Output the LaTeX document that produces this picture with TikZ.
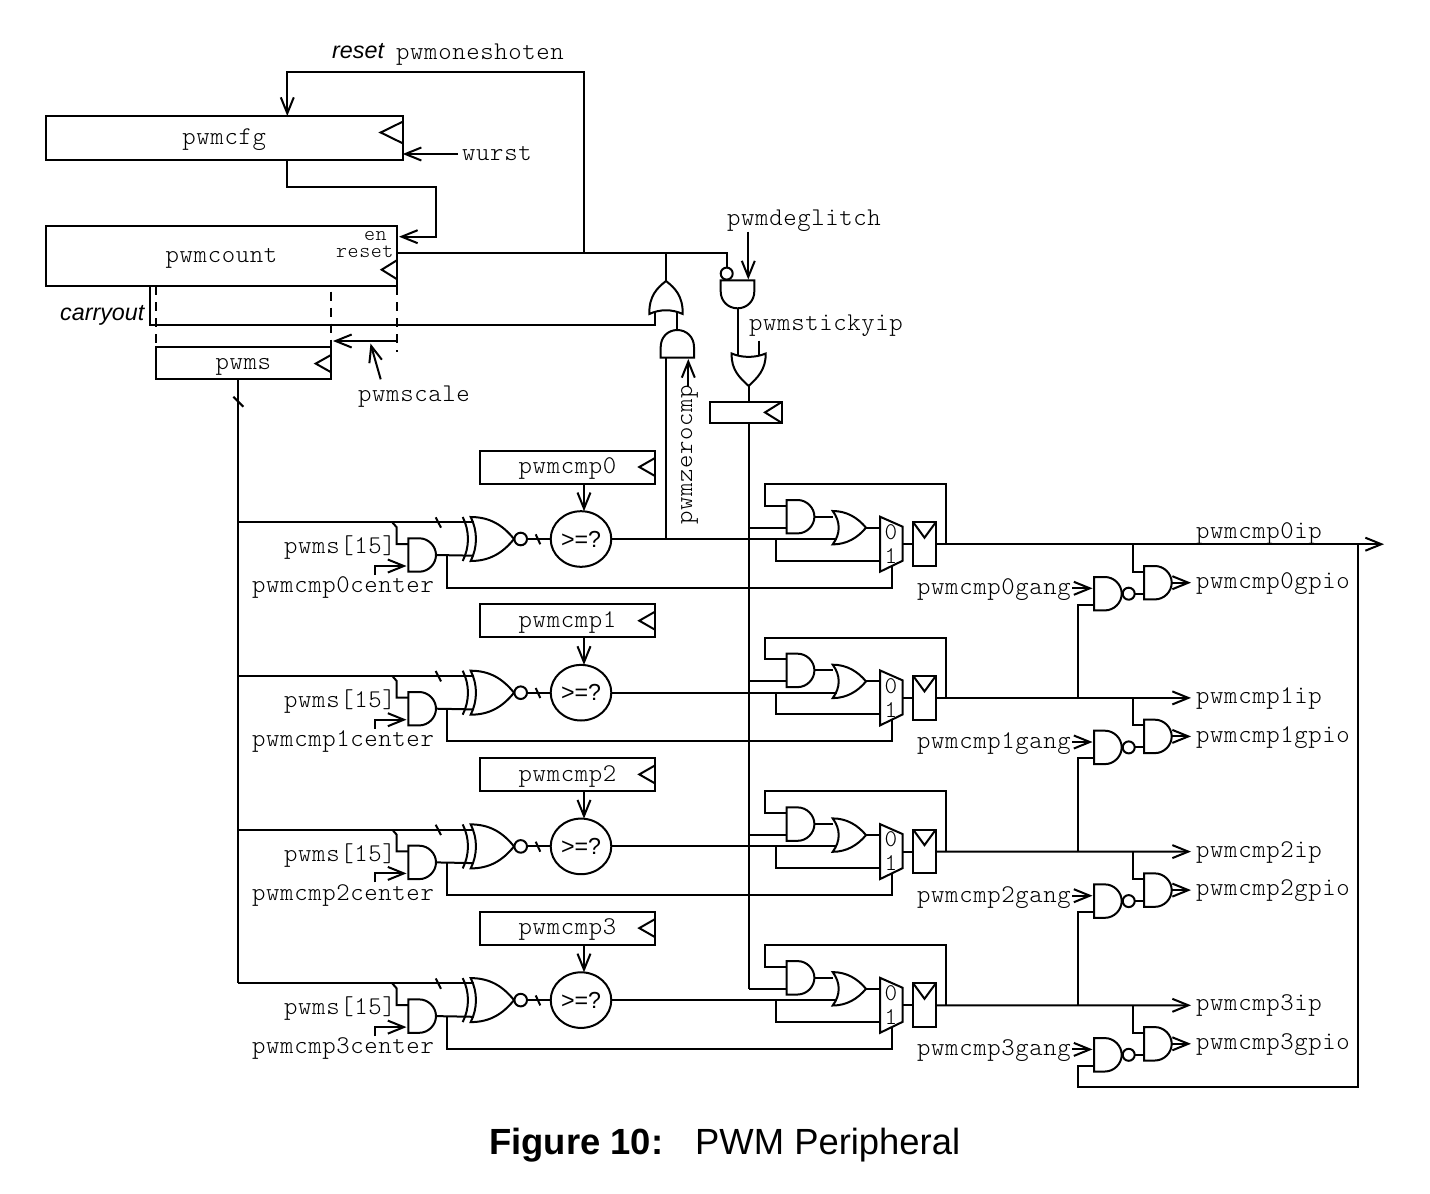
\documentclass[tikz,border=0pt]{standalone}
\usepackage{fontspec}
\setmainfont{Liberation Sans}
\setmonofont{Latin Modern Mono Light}[LetterSpace=2.5]
\usetikzlibrary{arrows.meta,shapes.geometric}
\newcommand{\myand}[3]{%
 \begin{scope}[shift={(#2,#3)}]
 \draw[wire] (0,-16.7) -- (11,-16.7) .. controls (20,-16.7) and (27.7,-9) .. (27.7,0) .. controls (27.7,9) and (20,16.7) .. (11,16.7) -- (0,16.7) -- cycle;
 \coordinate (#1a) at (0,-11);
 \coordinate (#1b) at (0,11);
 \coordinate (#1c) at (0,-5.4);
 \coordinate (#1o) at (27.7,0);
 \end{scope}}
\newcommand{\myor}[3]{%
 \begin{scope}[shift={(#2,#3)}]
 \draw[wire] (0,-16.7) .. controls (14,-16.7) and (25,-10) .. (33.3,0) .. controls (25,10) and (14,16.7) .. (0,16.7) .. controls (8,6) and (8,-6) .. (0,-16.7) -- cycle;
 \coordinate (#1a) at (1,-11);
 \coordinate (#1b) at (4,11);
 \coordinate (#1o) at (33.3,0);
 \end{scope}}
\newcommand{\myxnor}[3]{%
 \begin{scope}[shift={(#2,#3)}]
 \draw[wire] (0,-22) .. controls (19,-22) and (32,-14) .. (43.3,0) .. controls (32,14) and (19,22) .. (0,22) .. controls (7,8) and (7,-8) .. (0,-22) -- cycle;
 \draw[wire] (-8,-22) .. controls (-1,-8) and (-1,8) .. (-8,22);
 \draw[wire] (50,0) circle[radius=6.3];
 \coordinate (#1a) at (3,-16.7);
 \coordinate (#1b) at (3,16.7);
 \coordinate (#1o) at (56.3,0);
 \end{scope}}
\newcommand{\myclk}[4]{\draw[wire] (#1,#2) -- ++(-#4,#3) -- (#1,{#2+2*#3});}
\tikzset{
 wire/.style={line width=2pt,line join=miter},
 arr/.style={wire,-{Straight Barb[length=16pt,width=13pt]}},
 dsh/.style={line width=2pt,dash pattern=on 9pt off 7pt},
 mono/.style={font=\ttfamily\fontsize{25.5}{27}\selectfont,inner sep=0pt,anchor=base west},
 small/.style={font=\ttfamily\fontsize{21}{23}\selectfont,inner sep=0pt,anchor=base west},
 ital/.style={font=\itshape\fontsize{23.3}{26}\selectfont,inner sep=0pt,anchor=base west},
 regbox/.style={draw,line width=2pt,inner sep=0pt,outer sep=0pt,font=\ttfamily\fontsize{25.5}{27}\selectfont,text height=15pt,text depth=2pt},
 cmpcirc/.style={draw,ellipse,line width=2pt,inner sep=0pt,outer sep=0pt,minimum width=60.6pt,minimum height=55.6pt,font=\fontsize{23.2}{26}\selectfont}
}
\begin{document}
\begin{tikzpicture}[x=1pt,y=-1pt]
\useasboundingbox (0,0) rectangle (1430,1194);
\fill[white] (0,0) rectangle (1430,1194);
% registers
\node[regbox,minimum width=357pt,minimum height=43.7pt] (cfg) at (224.2,137.9) {pwmcfg};
\node[regbox,minimum width=351.6pt,minimum height=60.3pt] (cnt) at (221.5,256.2) {pwmcount};
\node[regbox,minimum width=175.3pt,minimum height=32.6pt] (scl) at (243.4,363) {pwms};
\node[regbox,minimum width=71.7pt,minimum height=21.6pt] (stk) at (745.8,412.5) {};
\myclk{402.7}{121.7}{10.8}{22}
\myclk{397.3}{260}{9.7}{15.6}
\myclk{331}{355}{8.6}{15.3}
\myclk{781.7}{402}{10.4}{16.7}
% labels, top
\node[ital] (lrst) at (332,58.3) {reset};
\node[mono] (lone) at (396,59) {pwmoneshoten};
\node[mono] (lwu) at (462,160.3) {wurst};
\node[small] (len) at (364,240) {en};
\node[small] (lres) at (336,257) {reset};
\node[ital] (lcar) at (60,320) {carryout};
\node[mono] (lscl) at (358,401.8) {pwmscale};
\node[mono] (ldeg) at (727,225.8) {pwmdeglitch};
\node[mono] (lsti) at (749,330.8) {pwmstickyip};
\node[mono,rotate=90] (lzer) at (692,524.5) {pwmzerocmp};
% coordinates, top
\coordinate (jres) at (583.5,253.3);
\coordinate (jor) at (666,253.3);
\coordinate (jbub) at (726.7,253.3);
\coordinate (cfgin) at (287.3,116);
\coordinate (fbtop) at (583.5,72.3);
\coordinate (cfgout) at (287.3,159.7);
\coordinate (enin) at (435.7,236.7);
\coordinate (wuend) at (458,154);
\coordinate (dA) at (155.7,286.3);
\coordinate (dB) at (331,291.7);
\coordinate (dC) at (397.3,286.3);
\coordinate (sclA) at (397.3,341);
\coordinate (sclB) at (333,341);
\coordinate (sclP) at (380.7,379.3);
\coordinate (sclQ) at (370.5,343.5);
\coordinate (coA) at (150,286.3);
\coordinate (coB) at (655.3,324.5);
\coordinate (bus) at (238,379.3);
% top wires
\draw[arr] (jres) -- (fbtop) -| (cfgin);
\draw[arr] (wuend) -- (cfg.south east |- wuend);
\draw[arr] (cfgout) |- (enin |- 0,187.3) -- (enin) -- (399,236.7);
\draw[wire] (cnt.east |- jres) -- (jbub) -- (726.7,267.3);
\draw[wire] (726.7,273.6) circle[radius=6];
\draw[dsh] (dA) -- (155.7,346.7);
\draw[dsh] (dB) -- (331,346.7);
\draw[dsh] (dC) -- (397.3,351.7);
\draw[arr] (sclA) -- (sclB);
\draw[arr] (sclP) -- (sclQ);
\draw[wire] (coA) |- (coB) -- (655.3,311);
% gates near top
\draw[wire] (jor) -- (666,281);
\draw[wire] (666,281) .. controls (675,288) and (683,296) .. (682.7,314) .. controls (672,309) and (660,309) .. (649.3,314) .. controls (649,296) and (657,288) .. (666,281) -- cycle;
\draw[wire] (677.3,311) -- (677.3,330);
\draw[wire] (660.7,357.7) -- (694,357.7) -- (694,347) .. controls (694,337) and (686.5,330) .. (677.3,330) .. controls (668,330) and (660.7,337) .. (660.7,347) -- cycle;
\draw[arr] (688.3,386) -- (688.3,359);
\draw[wire] (720.7,280.3) -- (754.3,280.3) -- (754.3,291.5) .. controls (754.3,301) and (747,308.3) .. (737.5,308.3) .. controls (728,308.3) and (720.7,301) .. (720.7,291.5) -- cycle;
\draw[arr] (748.3,231.7) -- (748.3,279.5);
\draw[wire] (738,308.3) -- (738,356);
\draw[wire] (759.3,340.7) -- (759.3,355);
\draw[wire] (731.7,353.5) .. controls (742,358) and (755,358) .. (765.7,353.5) .. controls (766,370) and (757,378) .. (748.7,386) .. controls (740,378) and (731,370) .. (731.7,353.5) -- cycle;
\draw[wire] (748.7,386) -- (stk.north -| 748.7,0);
\draw[wire] (stk.south -| 748.7,0) -- (748.7,988.8);
\draw[wire] (666,539) -- (666,357.7);
% pwms bus
\draw[wire] (bus) -- (238,983.4);
\draw[wire] (233.3,396.7) -- (243.3,406.7);
% rows
\foreach \i in {0,1,2,3}{
\begin{scope}[shift={(0,\i*153.7)}]
 \node[regbox,minimum width=175pt,minimum height=33pt] (cmp\i) at (567.5,467.2) {pwmcmp\i};
 \myclk{655}{458}{9}{15.7}
 \node[cmpcirc] (ge\i) at (581,539) {>=?};
 \coordinate (gex\i) at (584,539);
 \myxnor{xn\i}{470.7}{539}
 \myand{an\i}{408.3}{555}
 \myand{ab\i}{786.7}{516.7}
 \myor{ob\i}{832.7}{527.7}
 \myand{au\i}{1144}{582.7}
 \myand{na\i}{1094}{593.7}
 \draw[wire] (1128.7,593.7) circle[radius=6];
 \coordinate (nn\i) at (1134.7,593.7);
 \coordinate (mx\i) at (902.7,544.2);
 % mux and flop
 \draw[wire] (880,516.7) -- (902.7,526.7) -- (902.7,560.7) -- (880,571.7) -- cycle;
 \node[small,anchor=center,font=\ttfamily\fontsize{24}{25}\selectfont] (mz\i) at (891,532) {0};
 \node[small,anchor=center,font=\ttfamily\fontsize{24}{25}\selectfont] (mo\i) at (891,556) {1};
 \node[draw,line width=2pt,inner sep=0pt,outer sep=0pt,minimum width=22.4pt,minimum height=43.7pt] (ff\i) at (924.5,544.2) {};
 \draw[wire] (ff\i.north west) -- (924.5,537.7) -- (ff\i.north east);
 % labels
 \node[mono] (lp\i) at (284,553.8) {pwms[15]};
 \node[mono] (lc\i) at (252,592.6) {pwmcmp\i center};
 \node[mono] (lg\i) at (917,594.8) {pwmcmp\i gang};
 \node[mono] (lo\i) at (1196,588.3) {pwmcmp\i gpio};
 % wires
 \draw[wire] (238,522.3) -- (xn\i a);
 \draw[wire] (435.7,517.3) -- (441,527.7);
 \draw[wire] (392.3,522.3) -- (396.7,527.3) |- (an\i a);
 \draw[arr] (375,575) |- (406.5,566);
 \draw[wire] (an\i o) -- (xn\i b);
 \draw[wire] (446.7,555) |- (891.7,587.7) -- (891.7,566);
 \draw[wire] (xn\i o) -- (ge\i.west);
 \draw[wire] (535.7,534.3) -- (540.3,544.3);
 \draw[arr] (gex\i |- cmp\i.south) -- (gex\i |- ge\i.north);
 \draw[wire] (ge\i.east) -- (ob\i b |- ge\i.east);
 \draw[wire] (776,539) |- (880,560.7);
 \draw[wire] (748.7,527.7) -- (ab\i b);
 \draw[wire] (ab\i o) -- (833,516.7);
 \draw[wire] (ob\i o) -- (880,527.7);
 \draw[wire] (mx\i) -- (ff\i.west);
 \draw[wire] (946,544.2) |- (765,484) |- (ab\i a);
 \draw[wire] (1132.7,544.2) |- (au\i a);
 \draw[wire] (nn\i) -- (au\i b);
 \draw[arr] (au\i o) -- (1191,582.7);
 \draw[arr] (1072,588.3) -- (1092.5,588.3);
\end{scope}
}
% outputs
\draw[arr] (ff0.east) -- (1384,544.2);
\draw[arr] (ff1.east) -- (1191,697.9);
\draw[arr] (ff2.east) -- (1191,851.6);
\draw[arr] (ff3.east) -- (1191,1005.3);
\node[mono] (li0) at (1196,538) {pwmcmp0ip};
\node[mono] (li1) at (1196,703.4) {pwmcmp1ip};
\node[mono] (li2) at (1196,857.1) {pwmcmp2ip};
\node[mono] (li3) at (1196,1010.8) {pwmcmp3ip};
% gang feedback
\draw[wire] (na0b) -| (1077.7,697.9);
\draw[wire] (na1b) -| (1077.7,851.6);
\draw[wire] (na2b) -| (1077.7,1005.3);
\draw[wire] (na3b) -| (1077.7,1087.3) -| (1358.3,544.2);
% caption
\node[inner sep=0pt,anchor=base west,font=\bfseries\fontsize{36.4}{40}\selectfont] (capa) at (489,1154) {Figure 10:};
\node[inner sep=0pt,anchor=base west,font=\fontsize{36.4}{40}\selectfont] (capb) at (695,1154) {PWM Peripheral};
\end{tikzpicture}
\end{document}
